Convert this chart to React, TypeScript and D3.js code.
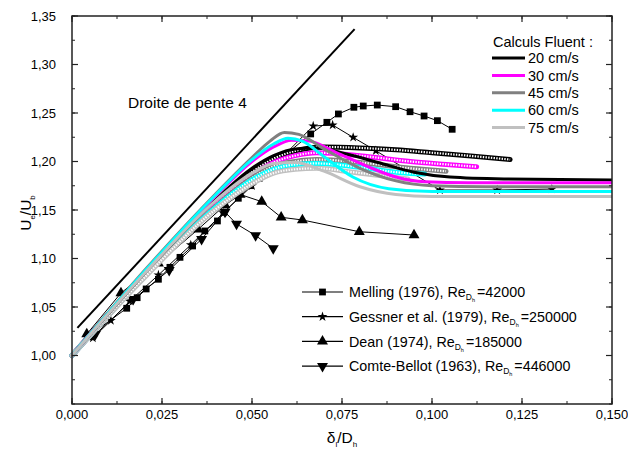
import React from "react";
import * as d3 from "d3";

type P = [number, number];

// ---------- data ----------
const xTickValues = [0, 0.025, 0.05, 0.075, 0.1, 0.125, 0.15];
const xTickLabels = ["0,000", "0,025", "0,050", "0,075", "0,100", "0,125", "0,150"];
const yTickValues = [1.0, 1.05, 1.1, 1.15, 1.2, 1.25, 1.3, 1.35];
const yTickLabels = ["1,00", "1,05", "1,10", "1,15", "1,20", "1,25", "1,30", "1,35"];

const droite: P[] = [[0.0015, 1.0285], [0.0785, 1.3365]];

const fluentNames = ["20 cm/s", "30 cm/s", "45 cm/s", "60 cm/s", "75 cm/s"];
const fluentColors = ["#000000", "#ff00ff", "#808080", "#00ffff", "#c0c0c0"];

const solid20: P[] = [[0, 1.0], [0.02, 1.084], [0.04, 1.161], [0.05, 1.193], [0.056, 1.206], [0.062, 1.213], [0.068, 1.214], [0.076, 1.208], [0.085, 1.199], [0.095, 1.189], [0.105, 1.184], [0.12, 1.182], [0.15, 1.181]];
const solid30: P[] = [[0, 1.0], [0.02, 1.086], [0.04, 1.165], [0.05, 1.2], [0.056, 1.215], [0.061, 1.222], [0.066, 1.221], [0.073, 1.21], [0.082, 1.195], [0.09, 1.184], [0.098, 1.179], [0.11, 1.178], [0.15, 1.178]];
const solid45: P[] = [[0, 1.0], [0.02, 1.087], [0.04, 1.167], [0.05, 1.204], [0.055, 1.221], [0.059, 1.23], [0.063, 1.228], [0.07, 1.213], [0.08, 1.193], [0.09, 1.18], [0.1, 1.175], [0.115, 1.174], [0.15, 1.174]];
const solid60: P[] = [[0, 1.0], [0.02, 1.086], [0.04, 1.166], [0.05, 1.202], [0.056, 1.218], [0.06, 1.224], [0.064, 1.221], [0.07, 1.205], [0.078, 1.184], [0.088, 1.172], [0.1, 1.169], [0.15, 1.169]];
const solid75: P[] = [[0, 1.0], [0.02, 1.084], [0.04, 1.16], [0.05, 1.188], [0.056, 1.198], [0.062, 1.199], [0.07, 1.19], [0.08, 1.174], [0.09, 1.166], [0.1, 1.164], [0.15, 1.164]];

const circ20: P[] = [[0, 1.0], [0.02, 1.083], [0.04, 1.158], [0.05, 1.189], [0.056, 1.203], [0.062, 1.211], [0.07, 1.215], [0.08, 1.214], [0.09, 1.212], [0.1, 1.209], [0.11, 1.206], [0.1217, 1.202]];
const circ30: P[] = [[0, 1.0], [0.02, 1.082], [0.04, 1.156], [0.05, 1.186], [0.056, 1.199], [0.062, 1.206], [0.068, 1.209], [0.08, 1.206], [0.094, 1.2], [0.104, 1.197], [0.1124, 1.1946]];
const circ45: P[] = [[0, 1.0], [0.02, 1.081], [0.04, 1.154], [0.05, 1.183], [0.056, 1.195], [0.062, 1.2], [0.068, 1.202], [0.08, 1.199], [0.094, 1.193], [0.1039, 1.19]];
const circ60: P[] = [[0, 1.0], [0.02, 1.081], [0.04, 1.153], [0.05, 1.181], [0.056, 1.192], [0.062, 1.197], [0.068, 1.198], [0.08, 1.194], [0.09, 1.189], [0.098, 1.187]];
const circ75: P[] = [[0, 1.0], [0.02, 1.08], [0.04, 1.151], [0.05, 1.177], [0.056, 1.188], [0.062, 1.192], [0.068, 1.193], [0.078, 1.189], [0.0933, 1.182]];

const melling: P[] = [[0.0044, 1.0194], [0.0152, 1.0487], [0.0181, 1.0596], [0.0206, 1.0686], [0.024, 1.0786], [0.0272, 1.0909], [0.03, 1.1012], [0.0335, 1.1129], [0.0369, 1.1284], [0.0404, 1.1387], [0.0422, 1.1476], [0.0462, 1.1621], [0.0496, 1.1751], [0.052, 1.1827], [0.0545, 1.193], [0.059, 1.206], [0.0663, 1.2284], [0.0708, 1.2404], [0.074, 1.249], [0.0783, 1.2559], [0.0809, 1.2572], [0.0848, 1.2582], [0.0899, 1.2565], [0.0939, 1.2513], [0.0978, 1.2469], [0.1015, 1.2421], [0.1056, 1.2332]];
const gessner: P[] = [[0.0058, 1.018], [0.0108, 1.036], [0.016, 1.056], [0.024, 1.083], [0.033, 1.114], [0.042, 1.147], [0.05, 1.175], [0.058, 1.203], [0.067, 1.2366], [0.0724, 1.2376], [0.0781, 1.2249], [0.0844, 1.2111], [0.1022, 1.1706], [0.1181, 1.1706], [0.1333, 1.1716]];
const dean: P[] = [[0.0041, 1.022], [0.0136, 1.0644], [0.024, 1.095], [0.035, 1.13], [0.0425, 1.155], [0.0467, 1.166], [0.0527, 1.1586], [0.0581, 1.1425], [0.064, 1.1397], [0.0798, 1.1276], [0.095, 1.1242]];
const comte: P[] = [[0.0065, 1.022], [0.017, 1.058], [0.027, 1.088], [0.036, 1.12], [0.0425, 1.148], [0.0457, 1.1356], [0.051, 1.1237], [0.0559, 1.1105]];

const expNames = ["Melling (1976), Re", "Gessner et al. (1979), Re", "Dean (1974), Re", "Comte-Bellot (1963), Re"];
const expRe = ["=42000", "=250000", "=185000", "=446000"];

// ---------- component ----------
const W = 628, H = 455;
const FONT = "'Liberation Sans', Arial, Helvetica, sans-serif";

export default function App() {
  const x = d3.scaleLinear().domain([0, 0.15]).range([72, 612]);
  const y = d3.scaleLinear().domain([0.95, 1.35]).range([404, 16]);
  const line = d3.line<P>().x((d) => x(d[0])).y((d) => y(d[1])).curve(d3.curveMonotoneX);
  const straight = d3.line<P>().x((d) => x(d[0])).y((d) => y(d[1]));

  const solids = [solid20, solid30, solid45, solid60, solid75];
  const circs = [circ20, circ30, circ45, circ60, circ75];

  const xMinor = d3.range(0, 0.1501, 0.0125);
  const yMinor = d3.range(0.95, 1.3501, 0.025);

  const sq = d3.symbol().type(d3.symbolSquare).size(46)()!;
  const star = d3.symbol().type(d3.symbolStar).size(30)()!;
  const tri = d3.symbol().type(d3.symbolTriangle).size(52)()!;

  const markerFor = (k: number, cx: number, cy: number, key?: string | number) => {
    if (k === 0) return <path key={key} d={sq} transform={`translate(${cx},${cy})`} fill="#000" />;
    if (k === 1) return <path key={key} d={star} transform={`translate(${cx},${cy})`} fill="#000" />;
    if (k === 2) return <path key={key} d={tri} transform={`translate(${cx},${cy})`} fill="#000" />;
    return <path key={key} d={tri} transform={`translate(${cx},${cy}) rotate(180)`} fill="#000" />;
  };

  const exps = [melling, gessner, dean, comte];
  const frame = "#222";

  return (
    <svg width={W} height={H} style={{ position: "absolute", left: 0, top: 0, background: "#fff" }} fontFamily={FONT}>
      <rect x={0} y={0} width={W} height={H} fill="#fff" />

      {/* experimental (under the CFD curves) */}
      {exps.map((e, k) => (
        <g key={"e" + k}>
          <path d={straight(e)!} fill="none" stroke="#000" strokeWidth={1} />
          {e.map((d, j) => markerFor(k, x(d[0]), y(d[1]), j))}
        </g>
      ))}

      {/* circle-chain curves */}
      {circs.map((c, i) => (
        <g key={"c" + i}>
          <path d={line(c)!} fill="none" stroke={fluentColors[i]} strokeWidth={5} strokeLinecap="round" />
          <path d={line(c)!} fill="none" stroke="#fff" strokeWidth={2.2} strokeDasharray="1.4 1.3" />
        </g>
      ))}
      {/* solid curves */}
      {solids.map((c, i) => (
        <path key={"s" + i} d={line(c)!} fill="none" stroke={fluentColors[i]} strokeWidth={3} />
      ))}
      {/* droite */}
      <path d={straight(droite)!} stroke="#000" strokeWidth={2} fill="none" />
      <text x={128} y={108} fontSize={15.5} fill="#000">Droite de pente 4</text>

      {/* frame */}
      <rect x={72} y={16} width={540} height={388} fill="none" stroke={frame} strokeWidth={1.5} />
      {xTickValues.map((v, i) => (
        <g key={"xt" + i}>
          <line x1={x(v)} x2={x(v)} y1={404} y2={398} stroke={frame} strokeWidth={1.2} />
          <line x1={x(v)} x2={x(v)} y1={16} y2={22} stroke={frame} strokeWidth={1.2} />
          <text x={x(v)} y={419} fontSize={13} textAnchor="middle" fill="#000">{xTickLabels[i]}</text>
        </g>
      ))}
      {xMinor.map((v, i) => (
        <g key={"xm" + i}>
          <line x1={x(v)} x2={x(v)} y1={404} y2={401} stroke={frame} strokeWidth={1} />
          <line x1={x(v)} x2={x(v)} y1={16} y2={19} stroke={frame} strokeWidth={1} />
        </g>
      ))}
      {yTickValues.map((v, i) => (
        <g key={"yt" + i}>
          <line x1={72} x2={78} y1={y(v)} y2={y(v)} stroke={frame} strokeWidth={1.2} />
          <line x1={612} x2={606} y1={y(v)} y2={y(v)} stroke={frame} strokeWidth={1.2} />
          <text x={56} y={y(v) + 4.5} fontSize={13} textAnchor="end" fill="#000">{yTickLabels[i]}</text>
        </g>
      ))}
      {yMinor.map((v, i) => (
        <g key={"ym" + i}>
          <line x1={72} x2={75} y1={y(v)} y2={y(v)} stroke={frame} strokeWidth={1} />
          <line x1={612} x2={609} y1={y(v)} y2={y(v)} stroke={frame} strokeWidth={1} />
        </g>
      ))}

      {/* axis titles */}
      <text x={342} y={443} fontSize={15.5} textAnchor="middle" fill="#000">
        δ<tspan fontSize={8} dy={4}>l</tspan><tspan dy={-4}>/D</tspan><tspan fontSize={8} dy={4}>h</tspan>
      </text>
      <text transform="translate(31,213) rotate(-90)" fontSize={15.5} textAnchor="middle" fill="#000">
        U<tspan fontSize={8} dy={4}>e</tspan><tspan dy={-4}>/U</tspan><tspan fontSize={8} dy={4}>b</tspan>
      </text>

      {/* legend top */}
      <text x={493} y={46.5} fontSize={14.5} fill="#000">Calculs Fluent :</text>
      {fluentNames.map((n, i) => {
        const yy = 58 + i * 17.4;
        return (
          <g key={"lf" + i}>
            <line x1={492} x2={525} y1={yy} y2={yy} stroke={fluentColors[i]} strokeWidth={3} />
            <text x={528} y={yy + 5.2} fontSize={14.5} fill="#000">{n}</text>
          </g>
        );
      })}

      {/* legend bottom */}
      {expNames.map((n, k) => {
        const yy = 292 + k * 24.7;
        return (
          <g key={"le" + k}>
            <line x1={302} x2={343} y1={yy} y2={yy} stroke="#000" strokeWidth={1.2} />
            {markerFor(k, 322.5, yy)}
            <text x={349} y={yy + 5.2} fontSize={14.3} fill="#000">
              {n}
              <tspan fontSize={8.5} dy={3}>D</tspan>
              <tspan fontSize={5.5} dy={2}>h</tspan>
              <tspan fontSize={14.3} dy={-5} dx={2}>{expRe[k]}</tspan>
            </text>
          </g>
        );
      })}
    </svg>
  );
}
